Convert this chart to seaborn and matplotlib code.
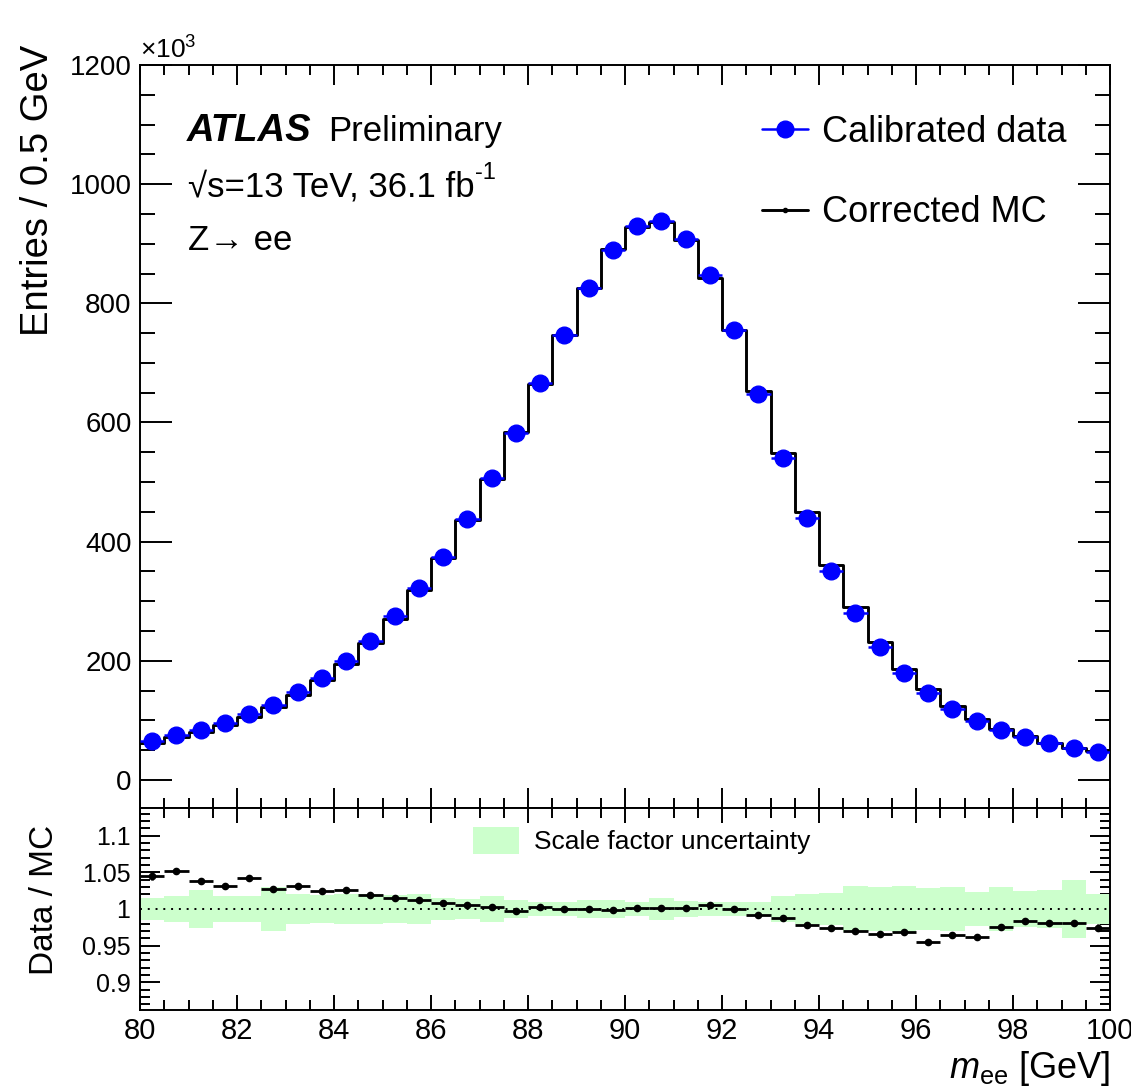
import numpy as np
import pandas as pd
import matplotlib
matplotlib.use("Agg")
import matplotlib.pyplot as plt
import seaborn as sns
from matplotlib.lines import Line2D
from matplotlib.patches import Patch
from matplotlib.ticker import MultipleLocator, FuncFormatter

# bin edges of the m_ee histogram, 0.5 GeV bins
edges = np.arange(80.0, 100.01, 0.5)
centers = edges[:-1] + 0.25

# entries per bin, in units of 10^3
data_vals = [65.5, 75.6, 84.0, 95.3, 111.0, 126.6, 147.4, 171.4, 200.0, 234.0,
             274.5, 322.0, 375.0, 438.0, 507.0, 582.6, 666.7, 746.7, 826.0, 889.0,
             930.0, 938.0, 908.5, 847.0, 754.6, 648.0, 541.0, 440.0, 351.0, 281.0,
             224.0, 180.0, 145.7, 119.8, 99.0, 84.0, 72.8, 61.7, 53.3, 47.6]
mc_vals = [62.7, 71.9, 80.9, 92.4, 106.5, 123.2, 142.8, 167.2, 195.0, 229.5,
           270.3, 318.1, 371.8, 435.8, 505.4, 584.2, 665.2, 746.7, 825.6, 890.8,
           928.7, 936.3, 906.9, 842.0, 754.6, 653.4, 548.0, 449.7, 360.4, 289.6,
           232.1, 186.0, 152.7, 124.2, 102.9, 86.1, 74.0, 62.9, 54.3, 48.9]

# data / MC ratio and its stat error
ratio_vals = [1.045, 1.052, 1.038, 1.031, 1.0425, 1.028, 1.032, 1.025, 1.0256, 1.0196,
              1.0155, 1.0123, 1.0087, 1.005, 1.0032, 0.9973, 1.0023, 1.0, 1.0005, 0.998,
              1.0014, 1.0018, 1.0018, 1.0059, 1.0, 0.9918, 0.9872, 0.9785, 0.974, 0.9703,
              0.9653, 0.968, 0.9543, 0.9648, 0.962, 0.9758, 0.984, 0.9813, 0.9808, 0.9744]
ratio_err = [0.005, 0.004, 0.003, 0.003, 0.003, 0.002, 0.002, 0.002, 0.0015, 0.0015,
             0.0015, 0.0015, 0.0015, 0.0015, 0.0015, 0.0015, 0.0015, 0.0015, 0.0015, 0.0015,
             0.0015, 0.0015, 0.0015, 0.0015, 0.0015, 0.0015, 0.0015, 0.0015, 0.002, 0.002,
             0.002, 0.002, 0.0025, 0.0025, 0.003, 0.003, 0.004, 0.004, 0.004, 0.005]

# scale factor uncertainty (half width of the band)
sf_unc = [0.015, 0.0175, 0.026, 0.018, 0.0175, 0.030, 0.020, 0.0195, 0.020, 0.020,
          0.0195, 0.0205, 0.0157, 0.014, 0.018, 0.0125, 0.010, 0.010, 0.012, 0.012,
          0.0093, 0.0145, 0.0114, 0.010, 0.010, 0.009, 0.018, 0.021, 0.0215, 0.032,
          0.030, 0.031, 0.029, 0.030, 0.023, 0.030, 0.025, 0.026, 0.039, 0.0205]

df = pd.DataFrame({"m": centers, "data": data_vals, "mc": mc_vals,
                   "ratio": ratio_vals, "rerr": ratio_err, "unc": sf_unc})

sns.set_theme(style="ticks")
plt.rcParams["font.family"] = ["Liberation Sans", "DejaVu Sans"]
plt.rcParams["mathtext.fontset"] = "custom"
plt.rcParams["mathtext.rm"] = "Liberation Sans"
plt.rcParams["mathtext.it"] = "Liberation Sans:italic"
plt.rcParams["axes.linewidth"] = 1.4
for key in ["text.color", "axes.labelcolor", "xtick.color", "ytick.color", "axes.edgecolor"]:
    plt.rcParams[key] = "black"

W, H = 1131, 1088
fig = plt.figure(figsize=(W / 100, H / 100), dpi=100)
fig.patch.set_facecolor("white")

x0, x1 = 140 / W, 1110 / W
ax = fig.add_axes([x0, 1 - 808 / H, x1 - x0, (808 - 65) / H])
axr = fig.add_axes([x0, 1 - 1010 / H, x1 - x0, (1010 - 808) / H])

# --- main panel
sns.histplot(data=df, x="m", weights="mc", binwidth=0.5, binrange=(80, 100),
             element="step", fill=False, color="black", linewidth=2.1, ax=ax)
ax.errorbar(df["m"], df["data"], xerr=0.25, fmt="o", color="blue", markersize=12,
            elinewidth=1.8, capsize=0, zorder=3)
ax.set_xlim(80, 100)
ax.set_ylim(-47, 1200)
ax.set_xlabel("")
ax.set_ylabel("")
ax.xaxis.set_major_locator(MultipleLocator(2))
ax.xaxis.set_minor_locator(MultipleLocator(0.5))
ax.yaxis.set_major_locator(MultipleLocator(200))
ax.yaxis.set_minor_locator(MultipleLocator(50))
ax.tick_params(which="both", direction="in", top=True, right=True, width=1.4, colors="black")
ax.tick_params(axis="x", which="major", length=14.5, labelbottom=False)
ax.tick_params(axis="x", which="minor", length=7.5)
ax.tick_params(axis="y", which="major", length=23, labelsize=20, pad=6)
ax.tick_params(axis="y", which="minor", length=11)
for s in ax.spines.values():
    s.set_visible(True)
    s.set_color("black")

fig.text(140 / W, 1 - 50 / H, "×10$^{3}$", fontsize=19, ha="left", va="center")
fig.text(187 / W, 1 - 131 / H, "ATLAS", fontsize=27.5, fontweight="bold", fontstyle="italic",
         ha="left", va="center")
fig.text(328 / W, 1 - 131 / H, "Preliminary", fontsize=25, ha="left", va="center")
lumi = fig.text(188 / W, 1 - 187 / H, "√s=13 TeV, 36.1 fb", fontsize=25,
                ha="left", va="center")
fig.text(0, 0, "").set_visible(False)
ax.annotate("-1", xy=(1.0, 0.58), xycoords=lumi, fontsize=17, ha="left", va="bottom",
            annotation_clip=False)
fig.text(188 / W, 1 - 240 / H, "Z→ ee", fontsize=25, ha="left", va="center")

handles = [Line2D([], [], color="blue", marker="o", markersize=12, linewidth=1.8),
           Line2D([], [], color="black", marker="o", markersize=3, linewidth=2.1)]
ax.legend(handles, ["Calibrated data", "Corrected MC"], loc="upper left",
          bbox_to_anchor=(762 / W, 1 - 115 / H), bbox_transform=fig.transFigure,
          frameon=False, fontsize=26, handlelength=1.27, handletextpad=0.39,
          labelspacing=1.25, borderpad=0, borderaxespad=0)

fig.text(38 / W, 1 - 45 / H, "Entries / 0.5 GeV", fontsize=27.5, rotation=90,
         ha="center", va="top")

# --- ratio panel
axr.bar(df["m"], [2 * u for u in df["unc"]], bottom=[1 - u for u in df["unc"]], width=0.5,
        color="#ccffcc", linewidth=0, zorder=1)
axr.axhline(1.0, color="black", linestyle=(0, (1, 3)), linewidth=1.4, zorder=2)
axr.errorbar(df["m"], df["ratio"], xerr=0.25, yerr=df["rerr"], fmt="o", color="black",
             markersize=4.5, elinewidth=2.0, capsize=0, zorder=3)
axr.set_xlim(80, 100)
axr.set_ylim(0.862, 1.138)
axr.xaxis.set_major_locator(MultipleLocator(2))
axr.xaxis.set_minor_locator(MultipleLocator(0.5))
axr.yaxis.set_major_locator(MultipleLocator(0.05))
axr.yaxis.set_minor_locator(MultipleLocator(0.01))
axr.yaxis.set_major_formatter(FuncFormatter(lambda v, p: f"{v:g}"))
axr.tick_params(which="both", direction="in", top=True, right=True, width=1.4, colors="black")
axr.tick_params(axis="x", which="major", length=11, labelsize=21, pad=5)
axr.tick_params(axis="x", which="minor", length=7)
axr.tick_params(axis="y", which="major", length=14.5, labelsize=18, pad=7)
axr.tick_params(axis="y", which="minor", length=7.5)
for s in axr.spines.values():
    s.set_visible(True)
    s.set_color("black")

axr.legend([Patch(facecolor="#ccffcc", edgecolor="none")], ["Scale factor uncertainty"],
           loc="upper left", bbox_to_anchor=(473 / W, 1 - 827 / H),
           bbox_transform=fig.transFigure, frameon=False, fontsize=19,
           handlelength=1.75, handleheight=1.2, handletextpad=0.55,
           borderpad=0, borderaxespad=0)

fig.text(45 / W, 1 - 900 / H, "Data / MC", fontsize=24, rotation=90, ha="center", va="center")
fig.text(1110 / W, 1 - 1068 / H, "$m_{\\mathrm{ee}}$ [GeV]", fontsize=26, ha="right", va="center")

fig.savefig("out.png", dpi=100, facecolor="white")
